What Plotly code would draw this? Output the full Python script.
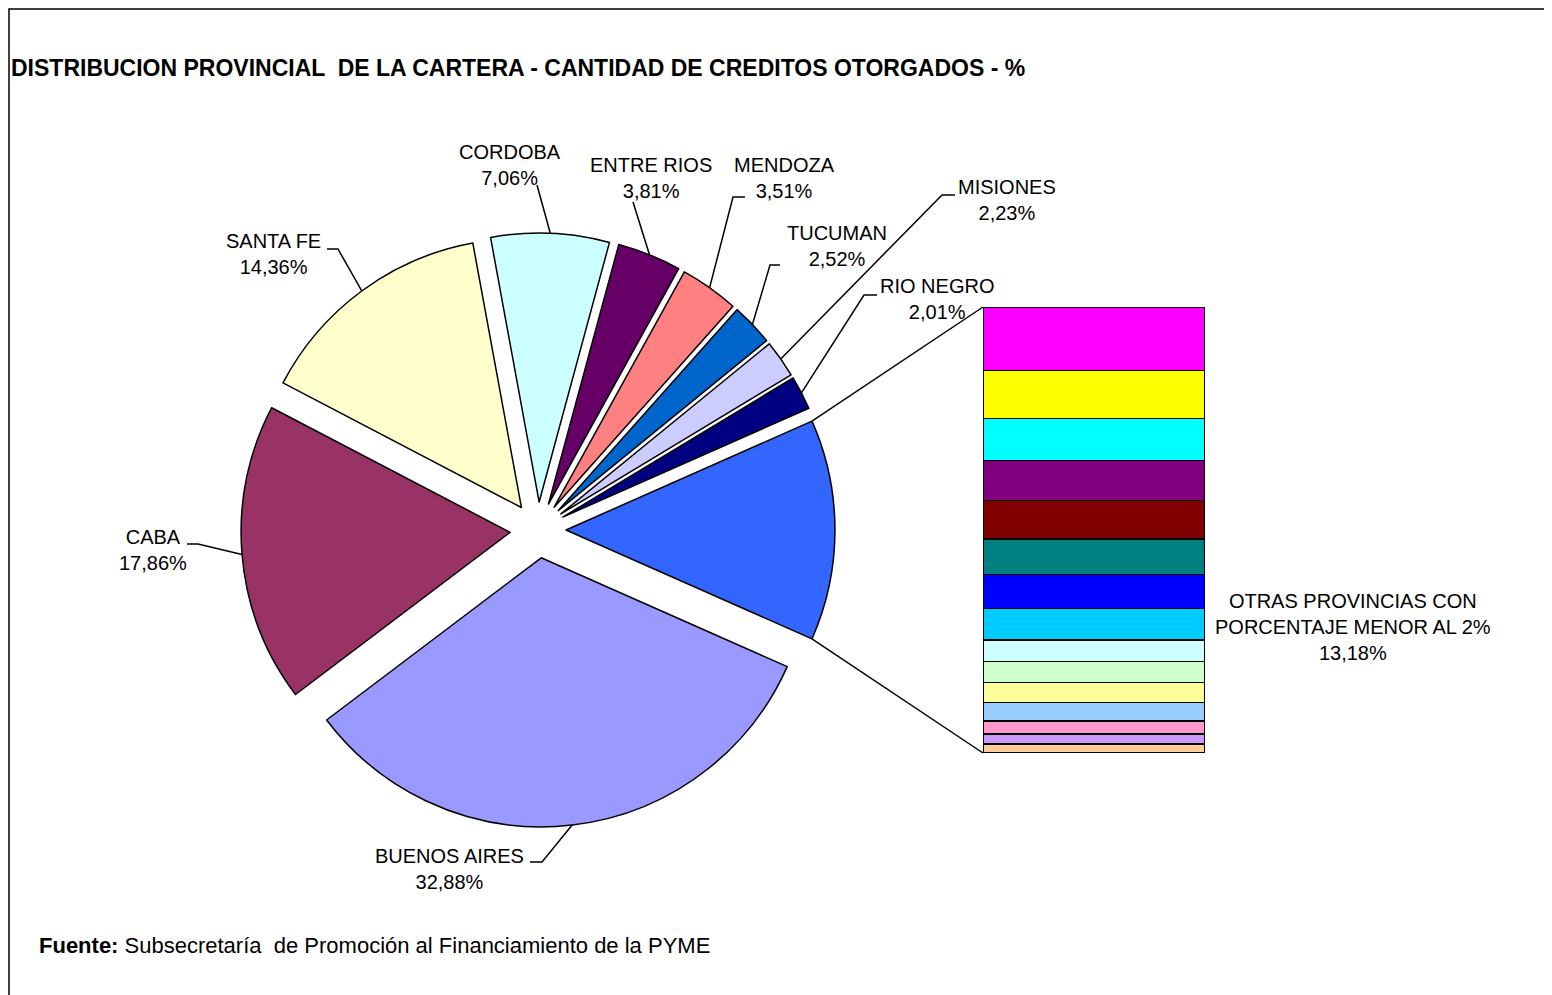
import math
import plotly.graph_objects as go

# la pagina deja 8px de margen en el body: la figura ocupa de 8 a 1552 / 995
OFF = 8
W, H = 1552 - OFF, 995 - OFF

# Datos de la torta (orden horario, empezando por "otras")
provincias = ['OTRAS PROVINCIAS CON<br>PORCENTAJE MENOR AL 2%', 'BUENOS AIRES', 'CABA', 'SANTA FE',
              'CORDOBA', 'ENTRE RIOS', 'MENDOZA', 'TUCUMAN', 'MISIONES', 'RIO NEGRO']
porcentajes = [13.18, 32.88, 17.86, 14.36, 7.06, 3.81, 3.51, 2.52, 2.23, 2.01]
colores_torta = ['#3366FF', '#9999FF', '#993366', '#FFFFCC', '#CCFFFF',
                 '#660066', '#FF8080', '#0066CC', '#CCCCFF', '#000080']

# Desglose de "otras provincias" (barra apilada, de arriba hacia abajo)
otras_valores = [1.88, 1.42, 1.24, 1.18, 1.13, 1.05, 1.01, 0.93, 0.64, 0.62, 0.59, 0.54, 0.39, 0.30, 0.26]
colores_barra = ['#FF00FF', '#FFFF00', '#00FFFF', '#800080', '#800000', '#008080', '#0000FF', '#00CCFF',
                 '#CCFFFF', '#CCFFCC', '#FFFF99', '#99CCFF', '#FF99CC', '#CC99FF', '#FFCC99']

FONT = 'Liberation Sans, Arial, sans-serif'


def px_x(x):
    return (x - OFF) / W


def px_y(y):
    return 1 - (y - OFF) / H


# Geometria de la torta (pixeles de pantalla)
cx, cy, radio = 538, 530, 269
pull = 0.104
caja = 2 * radio * (1 + pull)
total = sum(porcentajes)
rotacion = 90 - porcentajes[0] / total * 180

# angulos de pantalla (grados, horario desde las 3)
angulos = []
acum = -porcentajes[0] / total * 180
for v in porcentajes:
    span = v / total * 360
    angulos.append((acum, acum + span))
    acum += span


def punto_borde(i, ang=None):
    a0, a1 = angulos[i]
    mid = math.radians((a0 + a1) / 2)
    ox = cx + radio * pull * math.cos(mid)
    oy = cy + radio * pull * math.sin(mid)
    a = mid if ang is None else math.radians(ang)
    return ox + radio * math.cos(a), oy + radio * math.sin(a)


# Barra (pixeles)
bar_x0, bar_x1, bar_y0, bar_y1 = 983, 1205, 307, 753

fig = go.Figure()

fig.add_trace(go.Pie(
    labels=provincias, values=porcentajes, sort=False, direction='clockwise',
    rotation=rotacion, pull=pull,
    marker=dict(colors=colores_torta, line=dict(color='black', width=1.5)),
    textinfo='none', showlegend=False,
    domain=dict(x=[px_x(cx - caja / 2), px_x(cx + caja / 2)],
                y=[px_y(cy + caja / 2), px_y(cy - caja / 2)]),
))

for i, (v, c) in enumerate(zip(otras_valores, colores_barra)):
    fig.add_trace(go.Bar(
        x=[0], y=[v], width=1, name=f'Provincia {i + 1}', showlegend=False,
        marker=dict(color=c, line=dict(color='black', width=1.5)),
    ))

# Etiquetas: centro del texto y puntos del conector (pixeles)
etiquetas = {
    'CORDOBA': ((510, 165), [(537, 185)]),
    'ENTRE RIOS': ((651, 178), [(633, 202)]),
    'MENDOZA': ((784, 178), [(745, 197), (733, 197)]),
    'TUCUMAN': ((837, 246), [(780, 265), (770, 265)]),
    'MISIONES': ((1007, 200), [(955, 195), (942, 195)]),
    'RIO NEGRO': ((937, 299), [(877, 295), (864, 295)]),
    'SANTA FE': ((273, 254), [(327, 249), (338, 249)]),
    'CABA': ((153, 550), [(187, 544), (198, 544)]),
    'BUENOS AIRES': ((449, 869), [(530, 862), (542, 862)]),
}

annotations = []
shapes = []
for i, (nombre, v) in enumerate(zip(provincias, porcentajes)):
    texto = f'{nombre}<br>{v:.2f}%'.replace('.', ',')
    if i == 0:
        annotations.append(dict(x=px_x(1353), y=px_y(627), text=texto, showarrow=False,
                                xref='paper', yref='paper', xanchor='center', yanchor='middle',
                                align='center', font=dict(size=20, color='black', family=FONT)))
        continue
    (tx, ty), puntos = etiquetas[nombre]
    annotations.append(dict(x=px_x(tx), y=px_y(ty), text=texto, showarrow=False,
                            xref='paper', yref='paper', xanchor='center', yanchor='middle',
                            align='center', font=dict(size=20, color='black', family=FONT)))
    pts = puntos + [punto_borde(i)]
    path = 'M ' + ' L '.join(f'{px_x(x):.5f},{px_y(y):.5f}' for x, y in pts)
    shapes.append(dict(type='path', path=path, xref='paper', yref='paper',
                       line=dict(color='black', width=1.5)))

# Conectores torta -> barra
p_sup = punto_borde(0, angulos[0][0])
p_inf = punto_borde(0, angulos[0][1])
for (x, y), by in [(p_sup, bar_y0), (p_inf, bar_y1)]:
    shapes.append(dict(type='line', xref='paper', yref='paper',
                       x0=px_x(x), y0=px_y(y), x1=px_x(bar_x0), y1=px_y(by),
                       line=dict(color='black', width=1.5)))

# Marco
shapes.append(dict(type='rect', xref='paper', yref='paper', x0=px_x(OFF + 1), y0=px_y(1010),
                   x1=px_x(1549), y1=px_y(OFF + 1), line=dict(color='black', width=1.5)))

annotations.append(dict(x=px_x(9), y=px_y(68), xref='paper', yref='paper', showarrow=False,
                        xanchor='left', yanchor='middle',
                        text='<b>DISTRIBUCION PROVINCIAL  DE LA CARTERA - CANTIDAD DE CREDITOS OTORGADOS - %</b>',
                        font=dict(size=23, color='black', family=FONT)))
annotations.append(dict(x=px_x(37), y=px_y(945), xref='paper', yref='paper', showarrow=False,
                        xanchor='left', yanchor='middle',
                        text='<b>Fuente:</b> Subsecretaría  de Promoción al Financiamiento de la PYME',
                        font=dict(size=22, color='black', family=FONT)))

fig.update_layout(
    width=W, height=H, margin=dict(l=0, r=0, t=0, b=0),
    paper_bgcolor='white', plot_bgcolor='rgba(0,0,0,0)',
    barmode='stack', showlegend=False,
    xaxis=dict(domain=[px_x(bar_x0), px_x(bar_x1)], range=[-0.5, 0.5], visible=False, fixedrange=True),
    yaxis=dict(domain=[px_y(bar_y1), px_y(bar_y0)], range=[sum(otras_valores), 0], visible=False,
               fixedrange=True),
    annotations=annotations, shapes=shapes,
)

fig.write_html('out.html')
